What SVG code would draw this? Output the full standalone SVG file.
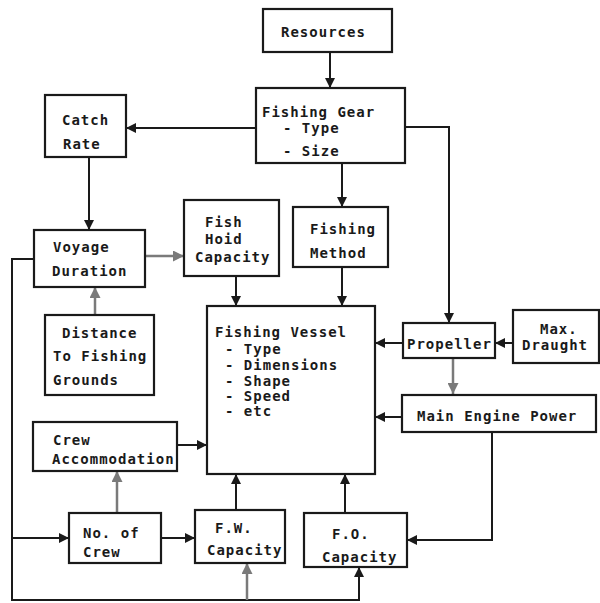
<svg xmlns="http://www.w3.org/2000/svg" width="600" height="603" viewBox="0 0 600 603">
<style>
.box{fill:#fff;stroke:#1a1a1a;stroke-width:2.2}
text{font-family:"DejaVu Sans Mono","Liberation Mono",monospace;font-size:14px;font-weight:bold;fill:#1a1a1a;letter-spacing:1px}
.c{fill:none;stroke:#1a1a1a;stroke-width:2}
.g{fill:none;stroke:#7a7a7a;stroke-width:2.5}
</style>
<defs>
<marker id="a" viewBox="0 0 10 10" refX="10" refY="5" markerWidth="10" markerHeight="10" markerUnits="userSpaceOnUse" orient="auto"><path d="M0,0 L10,5 L0,10 z" fill="#1a1a1a"/></marker>
<marker id="ag" viewBox="0 0 10 10" refX="10" refY="5" markerWidth="11" markerHeight="11" markerUnits="userSpaceOnUse" orient="auto"><path d="M0,0 L10,5 L0,10 z" fill="#7a7a7a"/></marker>
</defs>
<rect width="600" height="603" fill="#fff"/>
<g id="connectors">
<path class="c" d="M330,52 V88" marker-end="url(#a)"/>
<path class="c" d="M256,128 H126" marker-end="url(#a)"/>
<path class="c" d="M89,157 V230" marker-end="url(#a)"/>
<path class="g" d="M145,256 H184" marker-end="url(#ag)"/>
<path class="c" d="M342,163 V207" marker-end="url(#a)"/>
<path class="c" d="M405,127 H449 V323" marker-end="url(#a)"/>
<path class="c" d="M236,276 V306" marker-end="url(#a)"/>
<path class="c" d="M342,267 V306" marker-end="url(#a)"/>
<path class="g" d="M95,315 V287" marker-end="url(#ag)"/>
<path class="c" d="M177,445 H207" marker-end="url(#a)"/>
<path class="g" d="M117,513 V471" marker-end="url(#ag)"/>
<path class="c" d="M161,538 H195" marker-end="url(#a)"/>
<path class="c" d="M236,510 V474" marker-end="url(#a)"/>
<path class="c" d="M34,259 H12 V600 H359 V567" marker-end="url(#a)"/>
<path class="c" d="M12,538 H69" marker-end="url(#a)"/>
<path class="g" d="M247,600 V563" marker-end="url(#ag)"/>
<path class="c" d="M403,343 H375" marker-end="url(#a)"/>
<path class="c" d="M513,343 H495" marker-end="url(#a)"/>
<path class="g" d="M453,358 V394" marker-end="url(#ag)"/>
<path class="c" d="M402,417 H375" marker-end="url(#a)"/>
<path class="c" d="M492,432 V540 H407" marker-end="url(#a)"/>
<path class="c" d="M345,513 V474" marker-end="url(#a)"/>
</g>
<g id="resources"><rect class="box" x="263" y="9" width="129" height="43"/><text x="281" y="37">Resources</text></g>
<g id="fishing-gear"><rect class="box" x="256" y="88" width="149" height="75"/><text x="262" y="117">Fishing Gear</text><text x="283" y="133">- Type</text><text x="283" y="156">- Size</text></g>
<g id="catch-rate"><rect class="box" x="45" y="95" width="81" height="62"/><text x="62" y="125">Catch</text><text x="63" y="149">Rate</text></g>
<g id="voyage-duration"><rect class="box" x="34" y="230" width="111" height="57"/><text x="53" y="252">Voyage</text><text x="52" y="276">Duration</text></g>
<g id="fish-hold"><rect class="box" x="184" y="200" width="95" height="76"/><text x="205" y="227">Fish</text><text x="205" y="244">Hoid</text><text x="195" y="262">Capacity</text></g>
<g id="fishing-method"><rect class="box" x="293" y="207" width="95" height="60"/><text x="310" y="234">Fishing</text><text x="310" y="258">Method</text></g>
<g id="fishing-vessel"><rect class="box" x="207" y="306" width="168" height="168"/><text x="215" y="337">Fishing Vessel</text><text x="225" y="354">- Type</text><text x="225" y="370">- Dimensions</text><text x="225" y="386">- Shape</text><text x="225" y="401">- Speed</text><text x="225" y="416">- etc</text></g>
<g id="distance"><rect class="box" x="45" y="315" width="109" height="80"/><text x="62" y="338">Distance</text><text x="53" y="361">To Fishing</text><text x="53" y="385">Grounds</text></g>
<g id="crew-accommodation"><rect class="box" x="33" y="422" width="144" height="49"/><text x="53" y="445">Crew</text><text x="52" y="464">Accommodation</text></g>
<g id="no-of-crew"><rect class="box" x="69" y="513" width="92" height="50"/><text x="83" y="538">No. of</text><text x="83" y="557">Crew</text></g>
<g id="fw-capacity"><rect class="box" x="195" y="510" width="90" height="53"/><text x="215" y="533">F.W.</text><text x="207" y="555">Capacity</text></g>
<g id="propeller"><rect class="box" x="403" y="323" width="92" height="35"/><text x="407" y="349">Propeller</text></g>
<g id="max-draught"><rect class="box" x="513" y="310" width="86" height="53"/><text x="540" y="334">Max.</text><text x="522" y="350">Draught</text></g>
<g id="main-engine"><rect class="box" x="402" y="395" width="194" height="37"/><text x="417" y="421">Main Engine Power</text></g>
<g id="fo-capacity"><rect class="box" x="304" y="513" width="103" height="54"/><text x="332" y="539">F.O.</text><text x="322" y="562">Capacity</text></g>
</svg>
